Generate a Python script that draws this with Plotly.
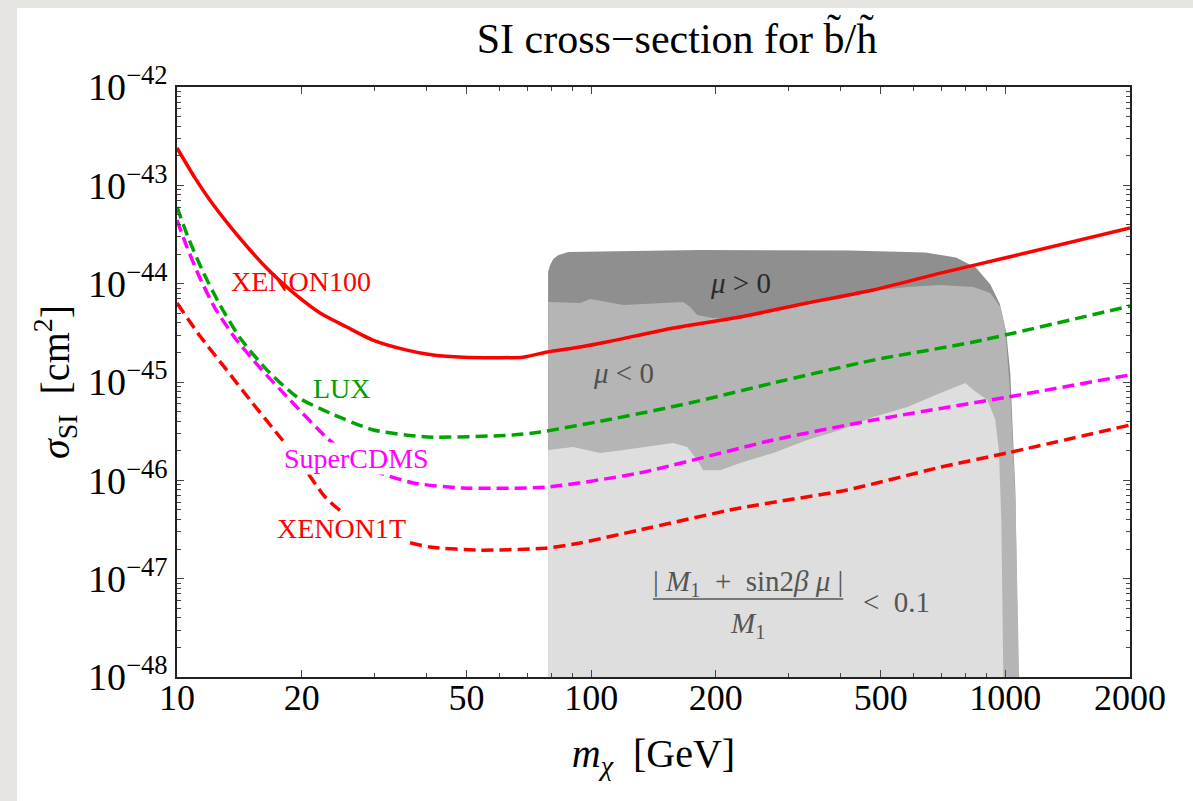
import numpy as np
import plotly.graph_objects as go

# ---------------- data ----------------
xenon100_m = [10, 11.05, 12.0, 13.65, 15.01, 16.1, 17.43, 19.50, 22.15, 25.7, 29.7, 35.9,
              41.5, 49.1, 68.5, 78.3, 94.1, 109, 158, 229, 332, 480, 697, 973, 2000]
xenon100_sigma = [2.40e-43, 1.19e-43, 7.10e-44, 3.52e-44, 2.20e-44, 1.585e-44, 1.14e-44,
                  7.50e-45, 5.03e-45, 3.62e-45, 2.67e-45, 2.11e-45, 1.88e-45, 1.79e-45,
                  1.79e-45, 2.02e-45, 2.27e-45, 2.55e-45, 3.54e-45, 4.58e-45, 6.35e-45,
                  8.63e-45, 1.28e-44, 1.78e-44, 3.68e-44]

lux_m = [10, 10.63, 11.56, 12.70, 14.20, 16.50, 19.50, 23.4, 29.8, 40.2, 64.8, 75.3,
         109, 173, 275, 480, 837, 2000]
lux_sigma = [6.03e-44, 2.98e-44, 1.315e-44, 6.07e-45, 2.80e-45, 1.32e-45, 7.03e-46,
             4.84e-46, 3.25e-46, 2.76e-46, 2.89e-46, 3.10e-46, 4.10e-46, 6.11e-46,
             9.77e-46, 1.67e-45, 2.55e-45, 5.93e-45]

supercdms_m = [10, 10.57, 11.36, 12.35, 13.81, 15.87, 18.75, 23.03, 26.6, 30.9, 37.2, 49.1,
               78.3, 131, 275, 480, 1012, 2000]
supercdms_sigma = [4.43e-44, 2.36e-44, 1.14e-44, 5.65e-45, 2.80e-45, 1.39e-45, 6.56e-46,
                   2.69e-46, 1.69e-46, 1.19e-46, 9.40e-47, 8.35e-47, 8.55e-47, 1.19e-46,
                   2.57e-46, 4.10e-46, 7.03e-46, 1.18e-45]

xenon1t_m = [10, 11.36, 13.06, 15.01, 17.24, 19.82, 22.78, 26.17, 33.24, 40.83, 53.94,
             78.3, 94.1, 131, 229, 415, 697, 1012, 2000]
xenon1t_sigma = [6.35e-45, 2.94e-45, 1.39e-45, 6.56e-46, 3.18e-46, 1.54e-46, 6.76e-47,
                 4.14e-47, 2.59e-47, 2.10e-47, 1.95e-47, 2.05e-47, 2.31e-47, 3.13e-47,
                 5.24e-47, 7.98e-47, 1.36e-46, 1.90e-46, 3.65e-46]

# shaded regions
dark_m = [78.7, 78.7, 79.6, 81.0, 83.2, 88.0, 183, 422, 640, 760, 850, 920, 970, 1005, 1028,
          1045, 1057, 1075]
dark_sigma = [1e-48, 1.315e-44, 1.55e-44, 1.78e-44, 1.95e-44, 2.10e-44, 2.20e-44, 2.17e-44,
              2.08e-44, 1.85e-44, 1.45e-44, 9.8e-45, 6.2e-45, 3.2e-45, 1.23e-45, 2.57e-46,
              8.0e-47, 1e-48]

medium_m = [78.7, 78.7, 94.1, 99.5, 109.3, 119.5, 166.8, 173.4, 180.3, 197.1, 229.1, 275.2,
            399.4, 479.9, 579.9, 696.6, 836.9, 920, 972.5, 1000, 1030, 1058, 1080]
medium_sigma = [1e-48, 6.52e-45, 6.35e-45, 6.98e-45, 6.52e-45, 6.07e-45, 6.52e-45, 5.79e-45,
                4.80e-45, 4.48e-45, 4.38e-45, 5.40e-45, 6.98e-45, 8.41e-45, 9.25e-45,
                9.68e-45, 9.25e-45, 8.03e-45, 5.79e-45, 3.38e-45, 6.56e-46, 6.31e-47, 1e-48]

light_m = [78.7, 78.7, 90.5, 105.1, 119.5, 157.8, 170.6, 180.3, 186.4, 204.9, 229.1, 275.2,
           332.5, 399.4, 479.9, 579.9, 696.6, 800.8, 836.9, 904.6, 945, 965, 978, 989]
light_sigma = [1e-48, 2.03e-46, 2.18e-46, 1.90e-46, 2.03e-46, 2.40e-46, 2.18e-46, 1.61e-46,
               1.27e-46, 1.27e-46, 1.50e-46, 1.90e-46, 2.57e-46, 3.25e-46, 4.41e-46,
               5.57e-46, 7.73e-46, 9.77e-46, 8.30e-46, 6.56e-46, 4.2e-46, 2.0e-46, 3.95e-47,
               1e-48]

# axes
x_tick_vals = [10, 20, 50, 100, 200, 500, 1000, 2000]
x_tick_text = ["10", "20", "50", "100", "200", "500", "1000", "2000"]
x_minor_vals = [30, 40, 60, 70, 80, 90, 300, 400, 600, 700, 800, 900]
y_exponents = [-48, -47, -46, -45, -44, -43, -42]

# label positions (GeV, cm^2)
labels = [
    ("XENON100", 19.9, 1.04e-44, "#ff0000", None),
    ("LUX", 25.0, 8.69e-46, "#00a000", None),
    ("SuperCDMS", 27.1, 1.65e-46, "#ff00ff", "white"),
    ("XENON1T", 25.0, 3.27e-47, "#ff0000", "white"),
]
mu_pos_label = (229, 1.02e-44)
mu_neg_label = (119.5, 1.23e-45)
frac_num = (239, 9.03e-48)
frac_den = (238, 3.38e-48)
frac_rhs = (545, 5.79e-48)
frac_bar_m = [141, 406]
frac_bar_sigma = [6.21e-48, 6.21e-48]

FONT = "Liberation Serif"

fig = go.Figure()

for xs, ys, col in [(dark_m, dark_sigma, "#8f8f8f"),
                    (medium_m, medium_sigma, "#b5b5b5"),
                    (light_m, light_sigma, "#dedede")]:
    fig.add_trace(go.Scatter(x=xs, y=ys, mode="lines", fill="toself", fillcolor=col,
                             line=dict(width=0, color=col),
                             hoverinfo="skip", showlegend=False))

# fraction bar of the condition label
fig.add_trace(go.Scatter(x=frac_bar_m, y=frac_bar_sigma, mode="lines",
                         line=dict(color="#555555", width=1.5), hoverinfo="skip",
                         showlegend=False))

for xs, ys, col, dash in [(xenon100_m, xenon100_sigma, "#ff0000", "solid"),
                          (lux_m, lux_sigma, "#00a400", "12px,6px"),
                          (supercdms_m, supercdms_sigma, "#ff00ff", "12px,6px"),
                          (xenon1t_m, xenon1t_sigma, "#ff0000", "12px,6px")]:
    fig.add_trace(go.Scatter(x=xs, y=ys, mode="lines",
                             line=dict(color=col, width=3.5, dash=dash, shape="spline",
                                       smoothing=0.6),
                             showlegend=False))

annotations = []
for txt, xm, ys, col, bg in labels:
    a = dict(x=np.log10(xm), y=np.log10(ys), xref="x", yref="y", text=txt,
             showarrow=False, font=dict(family=FONT, size=28, color=col))
    if bg:
        a["bgcolor"] = bg
        a["borderpad"] = 0
    annotations.append(a)

annotations.append(dict(x=np.log10(mu_pos_label[0]), y=np.log10(mu_pos_label[1]),
                        xref="x", yref="y", text="<i>μ</i> &gt; 0", showarrow=False,
                        font=dict(family=FONT, size=29, color="#2a2a2a")))
annotations.append(dict(x=np.log10(mu_neg_label[0]), y=np.log10(mu_neg_label[1]),
                        xref="x", yref="y", text="<i>μ</i> &lt; 0", showarrow=False,
                        font=dict(family=FONT, size=29, color="#505050")))
annotations.append(dict(x=np.log10(frac_num[0]), y=np.log10(frac_num[1]),
                        xref="x", yref="y",
                        text="|\u00a0<i>M</i><sub>1</sub>\u00a0\u00a0+\u00a0\u00a0sin2<i>β</i>\u00a0<i>μ</i>\u00a0|",
                        showarrow=False, font=dict(family=FONT, size=29, color="#555555")))
annotations.append(dict(x=np.log10(frac_den[0]), y=np.log10(frac_den[1]),
                        xref="x", yref="y", text="<i>M</i><sub>1</sub>",
                        showarrow=False, font=dict(family=FONT, size=29, color="#555555")))
annotations.append(dict(x=np.log10(frac_rhs[0]), y=np.log10(frac_rhs[1]),
                        xref="x", yref="y", text="&lt;\u00a0 0.1",
                        showarrow=False, font=dict(family=FONT, size=29, color="#555555")))

shapes = [
    dict(type="rect", xref="paper", yref="paper", x0=-0.168, x1=1.2, y0=-0.4, y1=1.134,
         fillcolor="white", line=dict(width=0), layer="below"),
]

fig.update_layout(
    width=1193, height=801, autosize=False,
    margin=dict(l=177, r=63, t=87, b=124),
    paper_bgcolor="#e6e5e1", plot_bgcolor="white",
    font=dict(family=FONT, color="black"),
    title=dict(text="SI cross\u2212section for b\u0303/h\u0303",
               x=(677 - 177) / 953, xref="paper", xanchor="center",
               y=1 - 38 / 801, yref="container", yanchor="middle",
               font=dict(family=FONT, size=42, color="black")),
    annotations=annotations,
    shapes=shapes,
    showlegend=False,
)

fig.update_xaxes(
    type="log", range=[1, np.log10(2000)],
    tickmode="array", tickvals=x_tick_vals, ticktext=x_tick_text,
    ticks="inside", ticklen=7, tickwidth=1, tickcolor="#444",
    showline=True, linecolor="#222", linewidth=1.5, mirror="allticks",
    showgrid=False, zeroline=False, ticklabelstandoff=-12,
    tickfont=dict(family=FONT, size=36, color="black"),
    minor=dict(tickmode="array", tickvals=x_minor_vals, ticks="inside", ticklen=4,
               tickcolor="#444", showgrid=False),
    title=dict(text="<i>m</i><sub><i>χ</i></sub>\u00a0\u00a0[GeV]", standoff=22,
               font=dict(family=FONT, size=40, color="black")),
)

y_minor = [m * 10.0 ** e for e in y_exponents[:-1] for m in range(2, 10)]
fig.update_yaxes(
    type="log", range=[-48, -42],
    tickmode="array", tickvals=[10.0 ** e for e in y_exponents],
    ticktext=["10<sup>\u2212%d</sup>" % (-e) for e in y_exponents],
    ticks="inside", ticklen=7, tickwidth=1, tickcolor="#444",
    showline=True, linecolor="#222", linewidth=1.5, mirror="allticks",
    showgrid=False, zeroline=False,
    tickfont=dict(family=FONT, size=38, color="black"),
    minor=dict(tickmode="array", tickvals=y_minor, ticks="inside", ticklen=4,
               tickcolor="#444", showgrid=False),
    title=dict(text="<i>σ</i><sub>SI</sub>\u00a0\u00a0[cm<sup>2</sup>]", standoff=6,
               font=dict(family=FONT, size=40, color="black")),
)

fig.write_html("out.html")
